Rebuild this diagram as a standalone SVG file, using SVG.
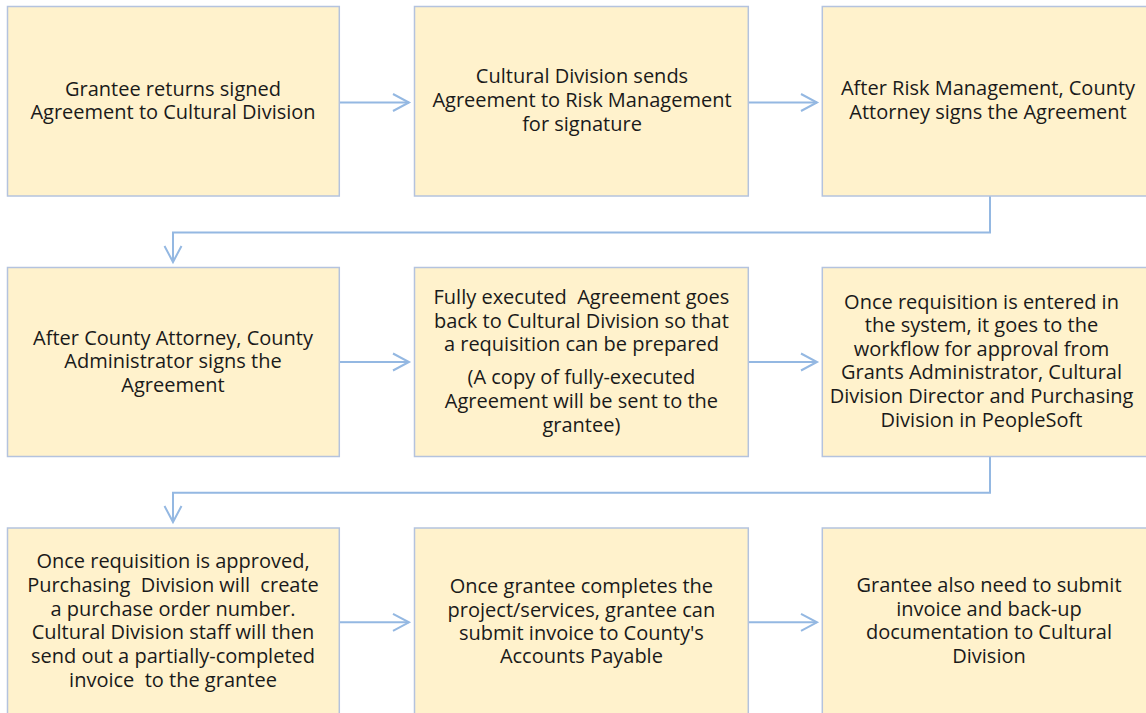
<svg xmlns="http://www.w3.org/2000/svg" width="1146" height="713" viewBox="0 0 1146 713">
<style>
.box{fill:#FFF2CC;stroke:#B4C3DE;stroke-width:1.5}
.t{font-family:"Open Sans","Liberation Sans",sans-serif;font-size:20px;fill:#1a1a1a;text-anchor:middle;white-space:pre}
.c{fill:none;stroke:#94B8E2;stroke-width:2}
</style>
<defs>
<marker id="ah" markerUnits="userSpaceOnUse" markerWidth="24" markerHeight="24" refX="0" refY="0" viewBox="-20 -12 24 24" orient="auto" overflow="visible">
<path d="M-16,-8.5 L0,0 L-16,8.5" fill="none" stroke="#94B8E2" stroke-width="2"/>
</marker>
</defs>
<rect width="1146" height="713" fill="#ffffff"/>
<g id="connectors">
<path class="c" d="M339.3,102.5 H409" marker-end="url(#ah)"/>
<path class="c" d="M748.3,102.5 H817" marker-end="url(#ah)"/>
<path class="c" d="M990,196 V232.5 H173 V262" marker-end="url(#ah)"/>
<path class="c" d="M339.3,362 H409" marker-end="url(#ah)"/>
<path class="c" d="M748.3,362 H817" marker-end="url(#ah)"/>
<path class="c" d="M990,456.5 V492.7 H173 V522" marker-end="url(#ah)"/>
<path class="c" d="M339.3,622.3 H409" marker-end="url(#ah)"/>
<path class="c" d="M748.3,622.3 H817" marker-end="url(#ah)"/>
</g>
<g id="n1"><rect class="box" x="7.5" y="6.5" width="331.8" height="189.5"/>
<text class="t"><tspan x="173" y="95.5">Grantee returns signed</tspan><tspan x="173" y="119">Agreement to Cultural Division</tspan></text></g>
<g id="n2"><rect class="box" x="414.5" y="6.5" width="333.8" height="189.5"/>
<text class="t"><tspan x="582" y="83.3">Cultural Division sends</tspan><tspan x="582" y="107.3">Agreement to Risk Management</tspan><tspan x="582" y="131">for signature</tspan></text></g>
<g id="n3"><rect class="box" x="822.3" y="6.5" width="336" height="189.5"/>
<text class="t"><tspan x="988" y="95">After Risk Management, County</tspan><tspan x="988" y="119.3">Attorney signs the Agreement</tspan></text></g>
<g id="n4"><rect class="box" x="7.5" y="267.5" width="331.8" height="189"/>
<text class="t"><tspan x="173" y="345">After County Attorney, County</tspan><tspan x="173" y="368.3">Administrator signs the</tspan><tspan x="173" y="391.7">Agreement</tspan></text></g>
<g id="n5"><rect class="box" x="414.5" y="267.5" width="333.8" height="189"/>
<text class="t"><tspan x="581.4" y="304.3">Fully executed  Agreement goes</tspan><tspan x="581.4" y="327.5">back to Cultural Division so that</tspan><tspan x="581.4" y="350.7">a requisition can be prepared</tspan><tspan x="581.4" y="383.5">(A copy of fully-executed</tspan><tspan x="581.4" y="407.7">Agreement will be sent to the</tspan><tspan x="581.4" y="431.7">grantee)</tspan></text></g>
<g id="n6"><rect class="box" x="822.3" y="267.5" width="336" height="189"/>
<text class="t"><tspan x="981.5" y="309">Once requisition is entered in</tspan><tspan x="981.5" y="332.4">the system, it goes to the</tspan><tspan x="981.5" y="355.8">workflow for approval from</tspan><tspan x="981.5" y="379.2">Grants Administrator, Cultural</tspan><tspan x="981.5" y="402.6">Division Director and Purchasing</tspan><tspan x="981.5" y="426.5">Division in PeopleSoft</tspan></text></g>
<g id="n7"><rect class="box" x="7.5" y="528" width="331.8" height="190"/>
<text class="t"><tspan x="173" y="568.3">Once requisition is approved,</tspan><tspan x="173" y="592.3">Purchasing  Division will  create</tspan><tspan x="173" y="615.7">a purchase order number.</tspan><tspan x="173" y="639.2">Cultural Division staff will then</tspan><tspan x="173" y="662.7">send out a partially-completed</tspan><tspan x="173" y="686.7">invoice  to the grantee</tspan></text></g>
<g id="n8"><rect class="box" x="414.5" y="528" width="333.8" height="190"/>
<text class="t"><tspan x="581.4" y="593.3">Once grantee completes the</tspan><tspan x="581.4" y="616.7">project/services, grantee can</tspan><tspan x="581.4" y="640">submit invoice to County's</tspan><tspan x="581.4" y="663.3">Accounts Payable</tspan></text></g>
<g id="n9"><rect class="box" x="822.3" y="528" width="336" height="190"/>
<text class="t"><tspan x="989" y="591.7">Grantee also need to submit</tspan><tspan x="989" y="616">invoice and back-up</tspan><tspan x="989" y="639.3">documentation to Cultural</tspan><tspan x="989" y="663.3">Division</tspan></text></g>
</svg>
